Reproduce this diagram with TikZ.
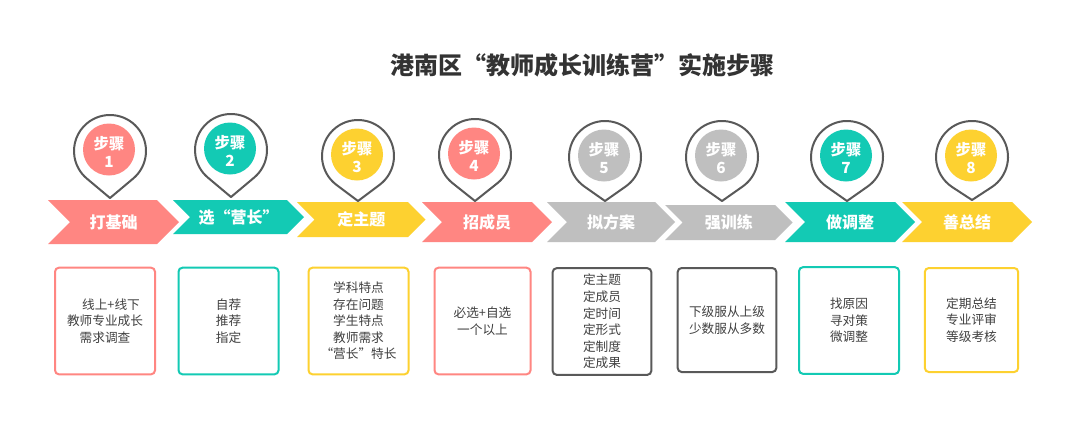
\documentclass[tikz,border=0pt]{standalone}
\usepackage{fontspec}
\setmainfont{Noto Sans CJK SC}
\usetikzlibrary{calc}
\definecolor{cpink}{HTML}{FF8682}
\definecolor{cteal}{HTML}{13CAB4}
\definecolor{cyel}{HTML}{FDD130}
\definecolor{cgrey}{HTML}{BFBFBF}
\definecolor{cdark}{HTML}{595959}
\definecolor{ctxt}{HTML}{404040}
\definecolor{ctitle}{HTML}{333333}
\tikzset{
  chevtext/.style={text=white, font=\fontsize{12}{14}\selectfont\bfseries, inner sep=0pt},
  pinline/.style={draw=cdark, line width=1.5pt, line join=round, fill=white},
  pintext/.style={text=white, font=\fontsize{11.5}{13.8}\selectfont\bfseries, align=center, inner sep=0pt},
  infobox/.style={draw=#1, line width=1.5pt, rounded corners=3pt, align=center, text=ctxt,
    font=\fontsize{9.5}{12.4}\selectfont, inner sep=0pt, minimum height=80pt},
  titletext/.style={text=ctitle, font=\fontsize{18}{20}\selectfont\bfseries}
}
\newcommand\mychev[7]{%
  \pgfmathsetmacro\hh{(#5-#4)/2}%
  \fill[#6] (#2,#4) -- (#3,#4) -- (#3+\hh,#4+\hh) -- (#3,#5) -- (#2,#5) -- (#2+\hh,#4+\hh) -- cycle;
  \node[chevtext] (#1) at ({(#2+#3+\hh)/2},{#4+\hh}) {#7};
}
\newcommand\mypin[6]{%
  \pgfmathsetmacro\pa{acos(36/(#4-#3))}%
  \draw[pinline] (#2,#4) -- ($(#2,#3)+(90-\pa:36)$) arc[start angle=90-\pa, end angle=\pa-270, radius=36] -- cycle;
  \fill[#5] (#2-1,#3-1.5) circle[radius=26];
  \node[pintext] (#1) at (#2-1,#3+1) {步骤\\#6};
}
\begin{document}
\begin{tikzpicture}[x=0.75pt,y=-0.75pt]
\useasboundingbox[fill=white] (0,0) rectangle (1092,437);
\node[titletext] (title) at (582,65) {港南区“教师成长训练营”实施步骤};
% chevrons
\mychev{c1}{48}{157}{200}{244}{cpink}{打基础}
\mychev{c2}{173}{287}{200}{234}{cteal}{选“营长”}
\mychev{c3}{297}{408}{202}{237}{cyel}{定主题}
\mychev{c4}{422}{532}{202}{242}{cpink}{招成员}
\mychev{c5}{547}{655}{202}{242}{cgrey}{拟方案}
\mychev{c6}{665}{775}{205}{240}{cgrey}{强训练}
\mychev{c7}{785}{895}{202}{242}{cteal}{做调整}
\mychev{c8}{902}{1012}{202}{242}{cyel}{善总结}
% pins
\mypin{p1}{110}{151}{198}{cpink}{1}
\mypin{p2}{231}{150}{197}{cteal}{2}
\mypin{p3}{358}{156}{201}{cyel}{3}
\mypin{p4}{475}{155}{201}{cpink}{4}
\mypin{p5}{605}{157}{201}{cgrey}{5}
\mypin{p6}{722}{157}{201}{cgrey}{6}
\mypin{p7}{847}{157}{201}{cteal}{7}
\mypin{p8}{972}{157}{200}{cyel}{8}
% boxes
\node[infobox=cpink, minimum width=75pt] (b1) at (105,321) {\hspace*{9pt}线上+线下\\教师专业成长\\需求调查};
\node[infobox=cteal, minimum width=75pt] (b2) at (228.5,321) {自荐\\推荐\\指定};
\node[infobox=cyel, minimum width=75pt] (b3) at (358.5,321) {学科特点\\存在问题\\学生特点\\教师需求\\“营长”特长};
\node[infobox=cpink, minimum width=72pt] (b4) at (482.5,321) {必选+自选\\一个以上};
\node[infobox=cdark, minimum width=74pt] (b5) at (602,321.5) {定主题\\定成员\\定时间\\定形式\\定制度\\定成果};
\node[infobox=cdark, minimum width=74pt, minimum height=78pt] (b6) at (727,320) {下级服从上级\\少数服从多数};
\node[infobox=cteal, minimum width=75pt] (b7) at (849,320.5) {找原因\\寻对策\\微调整};
\node[infobox=cyel, minimum width=70pt, minimum height=78pt] (b8) at (971.5,320) {定期总结\\专业评审\\等级考核};
\end{tikzpicture}
\end{document}
